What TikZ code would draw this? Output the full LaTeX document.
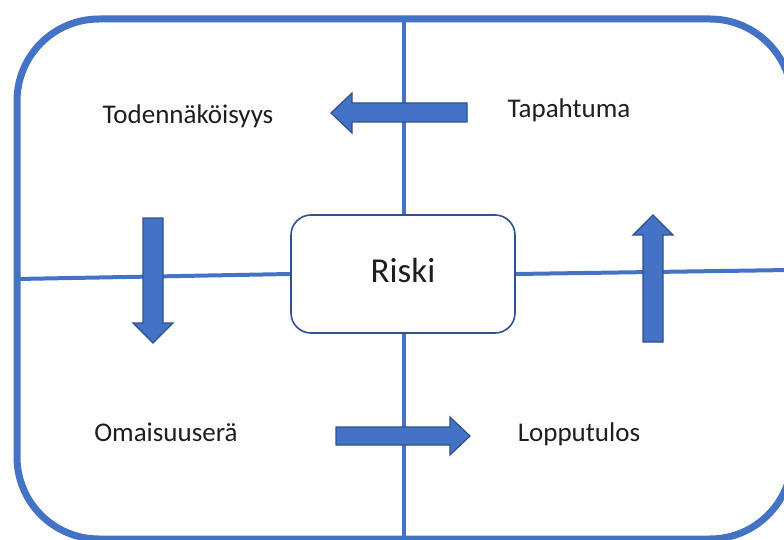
\documentclass[tikz,border=0pt]{standalone}
\usepackage{fontspec}
\setmainfont{Carlito}
\usetikzlibrary{backgrounds}
\definecolor{accent}{HTML}{4472C4}
\definecolor{accentdark}{HTML}{2F528F}
\definecolor{ink}{HTML}{1E1E1E}
\begin{document}
\begin{tikzpicture}[x=1pt,y=-1pt,
  frame/.style={draw=accent,line width=7pt,rounded corners=82pt},
  divider/.style={draw=accent,line width=4pt},
  core/.style={draw=accentdark,line width=1.6pt,fill=white,rounded corners=20pt,
    minimum width=224pt,minimum height=118pt,inner sep=0pt,
    font=\fontsize{35}{40}\selectfont,text=ink},
  label/.style={font=\fontsize{27}{31}\selectfont,text=ink,anchor=base,inner sep=0pt},
  blockarrow/.style={fill=accent,draw=accentdark,line width=1.2pt,line join=miter}]
\useasboundingbox (0,0) rectangle (784,540);
\clip (0,0) rectangle (784,540);

% outer frame
\draw[frame] (17,19) rectangle (792,539);

% end points of the dividing lines on the frame
\coordinate (top) at (404,19);
\coordinate (bottom) at (404,545);
\coordinate (left) at (17,279);
\coordinate (right) at (790,270);

% central box
\node[core] (riski) at (403,274) {\strut Riski};

% dividing lines, kept behind the central box
\begin{scope}[on background layer]
\draw[divider] (top) -- (riski.north -| top);
\draw[divider] (riski.south -| bottom) -- (bottom);
\draw[divider] (left) -- (riski.west);
\draw[divider] (riski.east) -- (right);
\end{scope}

% quadrant labels
\node[label] (prob) at (188,124) {Todennäköisyys};
\node[label] (event) at (569,118) {Tapahtuma};
\node[label] (asset) at (166,441) {Omaisuuserä};
\node[label] (outcome) at (579,441) {Lopputulos};

% block arrows
\path[blockarrow] (467,103) -- (352,103) -- (352,93) -- (331,113) -- (352,133) -- (352,122) -- (467,122) -- cycle;
\path[blockarrow] (336,427) -- (450,427) -- (450,417) -- (470,436) -- (450,455) -- (450,445) -- (336,445) -- cycle;
\path[blockarrow] (143,218) -- (163,218) -- (163,323) -- (173,323) -- (153,343) -- (133,323) -- (143,323) -- cycle;
\path[blockarrow] (643,342) -- (663,342) -- (663,235) -- (673,235) -- (653,215) -- (633,235) -- (643,235) -- cycle;
\end{tikzpicture}
\end{document}
